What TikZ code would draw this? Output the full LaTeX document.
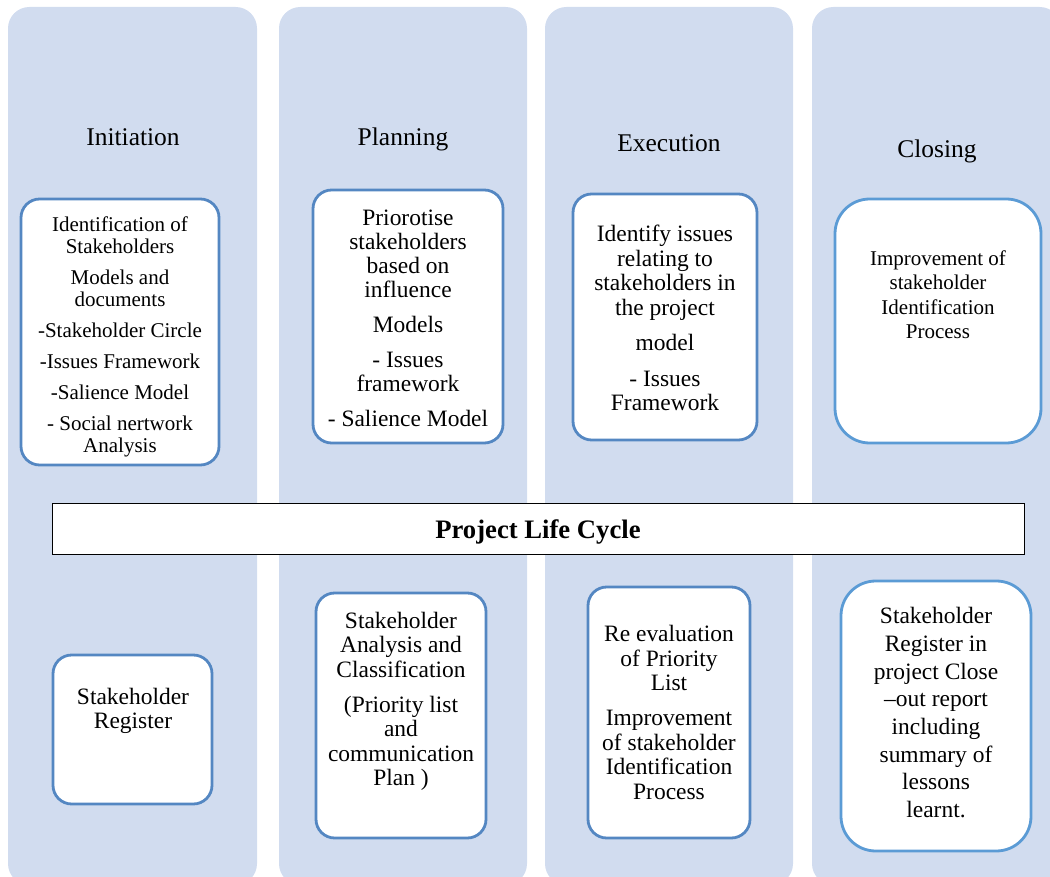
\documentclass[tikz,border=0pt]{standalone}
\usepackage{fontspec}
\setmainfont{Liberation Serif}
\usepackage{tikz}
\definecolor{phasefill}{RGB}{209,220,239}
\definecolor{boxline}{RGB}{84,135,194}
\definecolor{boxlinelt}{RGB}{91,155,213}
\newcommand{\fs}[2]{\fontsize{#1}{#2}\selectfont}
\tikzset{
  phase/.style={fill=phasefill, rounded corners=16pt},
  stage/.style={draw=boxline, line width=2.1pt, fill=white, rounded corners=14pt},
  stagewide/.style={draw=boxlinelt, line width=2.1pt, fill=white, rounded corners=26pt},
  phasename/.style={anchor=base, inner sep=0pt, font=\fs{19.1}{22}},
  txt/.style={anchor=north, align=center, inner sep=0pt},
}

\begin{document}
\begin{tikzpicture}[x=0.75pt,y=-0.75pt]
\useasboundingbox (0,0) rectangle (1050,877);
\clip (0,0) rectangle (1050,877);
% the four phases
\fill[phase] (8,7) rectangle (257,885);
\fill[phase] (279,7) rectangle (527,885);
\fill[phase] (545,7) rectangle (793,885);
\fill[phase] (812,7) rectangle (1061,885);
\node[phasename] (init) at (133,146) {Initiation};
\node[phasename] (plan) at (403,146) {Planning};
\node[phasename] (exec) at (669,152) {Execution};
\node[phasename] (close) at (937,158) {Closing};
% upper row
\draw[stage] (21,199) rectangle (219,465);
\node[txt, font=\fs{15.75}{16.5}] (ident) at (120,216.5) {Identification of\\Stakeholders\\[6.75pt]
  Models and\\documents\\[6.75pt] -Stakeholder Circle\\[6.75pt] -Issues Framework\\[6.75pt]
  -Salience Model\\[6.75pt] - Social nertwork\\Analysis};
\draw[stage] (313,190) rectangle (503,443);
\node[txt, font=\fs{17.6}{18}] (prio) at (408,210) {Priorotise\\stakeholders\\based on\\influence\\[8.25pt]
  Models\\[8.25pt] - Issues\\framework\\[8.25pt] - Salience Model};
\draw[stage] (573,194) rectangle (757,440);
\node[txt, font=\fs{17.6}{18.4}] (issues) at (665,225) {Identify issues\\relating to\\stakeholders in\\the project\\[8.25pt]
  model\\[8.25pt] - Issues\\Framework};
\draw[stagewide] (835,199) rectangle (1041,443);
\node[txt, font=\fs{15.75}{18.2}] (improve) at (938,250.5) {Improvement of\\stakeholder\\Identification\\Process};
% life cycle bar
\draw[line width=0.75pt, fill=white] (52,503) rectangle (1024,554);
\node[anchor=base, inner sep=0pt, font=\fs{20}{22}\bfseries] (plc) at (538,538) {Project Life Cycle};
% lower row
\draw[stage] (53,655) rectangle (212,804);
\node[txt, font=\fs{17.6}{18}] (register) at (133,688) {Stakeholder\\Register};
\draw[stage] (316,593) rectangle (486,838);
\node[txt, font=\fs{17.6}{18.2}] (analysis) at (401,612) {Stakeholder\\Analysis and\\Classification\\[8.5pt]
  (Priority list\\and\\communication\\Plan )};
\draw[stage] (588,587) rectangle (750,838);
\node[txt, font=\fs{17.6}{18.4}] (reeval) at (669,625) {Re evaluation\\of Priority\\List\\[8pt]
  Improvement\\of stakeholder\\Identification\\Process};
\draw[stagewide] (841,581) rectangle (1031,851);
\node[txt, font=\fs{17.6}{20.8}] (closeout) at (936,607) {Stakeholder\\Register in\\project Close\\\textendash out report\\including\\summary of\\lessons\\learnt.};
\end{tikzpicture}
\end{document}
